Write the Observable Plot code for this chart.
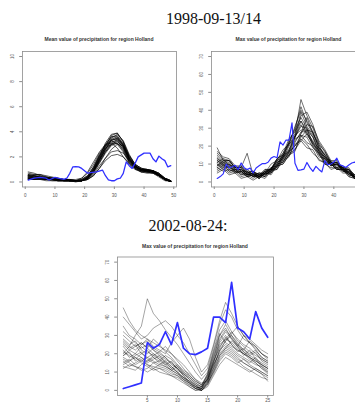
<!DOCTYPE html>
<html><head><meta charset="utf-8">
<script src="https://cdn.jsdelivr.net/npm/d3@7"></script>
<script src="https://cdn.jsdelivr.net/npm/@observablehq/plot@0.6"></script>
<style>
html,body{margin:0;padding:0;background:#fff;overflow:hidden;width:355px;height:403px;}
#page{position:relative;width:355px;height:403px;overflow:hidden;background:#fff;}
.date{position:absolute;font-family:"Liberation Serif","Times New Roman",serif;font-size:16px;color:#111;white-space:nowrap;transform:translateX(-50%);line-height:1;}
.ptitle{position:absolute;font-family:"Liberation Sans",Arial,sans-serif;font-weight:bold;font-size:5px;color:#333;white-space:nowrap;transform:translateX(-50%);line-height:1;}
.panel{position:absolute;}
.panel svg{max-width:none !important;display:block;}
</style></head><body><div id="page">
<div class="date" style="left:213.5px;top:10.6px">1998-09-13/14</div>
<div class="ptitle" style="left:99px;top:36.6px">Mean value of precipitation for region Holland</div>
<div class="ptitle" style="left:288.5px;top:36.6px">Max value of precipitation for region Holland</div>
<div class="date" style="left:188px;top:218px">2002-08-24:</div>
<div class="ptitle" style="left:195px;top:244.3px">Max value of precipitation for region Holland</div>
<div class="panel" id="p1" style="left:0px;top:44px;width:180px"></div>
<div class="panel" id="p2" style="left:190px;top:44px;width:180px"></div>
<div class="panel" id="p3" style="left:95px;top:250px;width:182px"></div>
</div>
<script>
// ---------- tick labels ----------
const ticksX1 = [0, 10, 20, 30, 40, 50];
const ticksY1 = [0, 2, 4, 6, 8, 10];
const ticksX2 = [0, 10, 20, 30, 40];
const ticksY2 = [0, 10, 20, 30, 40, 50, 60, 70];
const ticksX3 = [5, 10, 15, 20, 25];
const ticksY3 = [0, 10, 20, 30, 40, 50, 60, 70];

// ---------- panel 1: mean precipitation, 1998-09-13/14 ----------
const meanSteps = [1,3,5,7,9,11,13,15,17,19,21,23,25,27,29,31,33,35,37,39,41,43,45,47,49];
const meanMembers = [
 [.8,.7,.5,.4,.3,.2,.2,.1,.1,.1,.3,.9,1.8,2.5,3.1,3.4,2.8,1.8,1.2,1.0,.9,.9,.6,.2,.05],
 [.3,.3,.3,.2,.2,.1,.1,.1,.1,.2,.5,1.2,2.2,2.9,3.6,3.7,3.0,2.0,1.3,1.0,1.0,.8,.5,.2,.05],
 [.5,.6,.6,.4,.3,.3,.2,.2,.1,.1,.2,.7,1.5,2.3,2.9,3.1,2.6,1.6,1.1,.9,.8,.8,.6,.3,.1],
 [.2,.2,.2,.2,.1,.1,.1,.1,.1,.1,.4,1.1,2.0,3.1,3.8,3.9,3.2,2.1,1.4,1.1,1.0,.9,.7,.3,.1],
 [.4,.5,.4,.3,.3,.2,.2,.1,.1,.1,.3,.8,1.6,2.4,3.0,3.3,2.7,1.7,1.1,.8,.8,.7,.5,.2,.05],
 [.6,.5,.4,.4,.3,.3,.2,.2,.2,.3,.7,1.4,2.3,2.9,3.3,3.0,2.4,1.5,1.0,.9,.8,.8,.5,.2,.05],
 [.3,.2,.2,.1,.1,.1,.1,.1,.0,.1,.3,.9,1.7,2.6,3.4,3.6,3.1,1.9,1.3,1.0,.9,.9,.6,.2,.05],
 [.7,.6,.6,.5,.4,.3,.2,.2,.1,.1,.2,.5,1.1,1.7,2.1,2.2,2.0,1.5,1.1,.8,.7,.7,.5,.2,.05],
 [.2,.2,.3,.3,.2,.2,.1,.1,.1,.1,.4,1.0,1.9,2.7,3.3,3.5,2.9,1.8,1.2,1.0,1.0,.9,.7,.3,.1],
 [.5,.4,.3,.3,.2,.2,.2,.1,.1,.1,.3,.8,1.8,2.8,3.5,3.8,3.3,2.2,1.4,1.1,.9,.8,.5,.2,.05],
 [.4,.3,.3,.2,.2,.2,.1,.1,.1,.3,.8,1.6,2.4,3.0,3.1,2.7,2.0,1.4,1.0,.8,.8,.7,.4,.1,.05],
 [.3,.4,.4,.3,.2,.2,.2,.1,.1,.1,.2,.5,1.1,1.9,2.6,3.0,2.9,2.1,1.4,1.1,1.0,.9,.7,.3,.1],
 [.6,.5,.5,.3,.3,.2,.1,.1,.1,.1,.3,1.0,2.0,2.9,3.7,3.9,3.2,2.0,1.3,1.0,.9,.8,.6,.2,.05],
 [.2,.3,.2,.2,.2,.1,.1,.1,.1,.1,.3,.8,1.6,2.4,3.0,3.2,2.8,1.9,1.3,.9,.9,.8,.5,.2,.05],
 [.4,.4,.4,.3,.3,.2,.2,.2,.1,.2,.5,1.2,2.1,2.7,3.0,3.1,2.5,1.6,1.1,.9,.8,.8,.6,.2,.05],
 [.5,.5,.3,.3,.2,.2,.2,.1,.1,.1,.3,.9,1.7,2.6,3.3,3.5,3.0,1.9,1.2,1.0,.9,.8,.5,.2,.05],
 [.3,.3,.3,.2,.2,.1,.1,.1,.1,.1,.2,.6,1.3,1.9,2.4,2.5,2.3,1.7,1.2,1.0,.9,.8,.6,.2,.05],
 [.4,.3,.3,.3,.2,.2,.1,.1,.1,.1,.3,.9,1.9,2.8,3.4,3.4,2.9,1.8,1.2,.9,.9,.8,.5,.2,.05],
 [.3,.2,.3,.2,.2,.1,.1,.1,.1,.1,.4,1.1,2.1,3.0,3.6,3.6,2.9,1.8,1.2,1.0,.9,.9,.6,.2,.05],
 [.5,.4,.4,.3,.3,.2,.2,.1,.1,.2,.4,1.0,1.8,2.6,3.2,3.3,2.7,1.7,1.2,1.0,1.0,.9,.6,.3,.1]
];
const meanObsX = [1,3,5,7,8,10,11,13,14,15,16,17,18,19,21,22,24,26,27,28,29,30,31,32,33,34,35,36,37,38,40,42,43,44,45,46,47,48,49];
const meanObsY = [.15,.3,.37,.3,.16,.37,.3,.2,.3,.69,1.2,1.22,1.2,1.08,.7,.75,.8,.95,.5,.16,.1,.1,.25,.3,.69,1.6,1.3,1.08,1.5,2.0,2.3,2.3,1.85,1.6,2.06,1.85,1.7,1.2,1.3];

// ---------- panel 2: max precipitation, 1998-09-13/14 ----------
const maxSteps = [1,3,5,7,9,11,13,15,17,19,21,23,25,27,29,31,33,35,37,39,41,43,45,47,49];
const maxMembers = [
 [14,11,12,8,9,5,6,4,5,7,11,13,18,25,34,29,25,17,14,9,10,7,5,3,2],
 [8,10,6,7,4,5,3,4,3,7,8,14,16,23,27,36,27,21,13,12,8,9,5,4,2],
 [17,14,13,9,9,6,6,3,6,7,13,15,22,27,46,37,30,21,17,11,11,7,6,3,1],
 [5,7,4,5,2,3,1,3,2,6,7,13,15,21,23,27,21,18,11,10,7,7,3,2,1],
 [12,10,10,8,8,5,6,4,7,7,12,14,21,26,39,31,26,18,15,10,11,7,6,3,2],
 [10,7,9,5,6,3,4,2,5,5,10,11,16,18,23,19,18,12,11,7,8,5,5,2,1],
 [15,12,12,8,8,16,4,5,5,10,12,18,21,31,40,34,28,19,16,11,11,8,7,4,2],
 [9,11,7,8,5,6,3,5,4,8,9,15,18,26,29,29,22,19,12,11,8,8,4,3,1],
 [13,10,10,6,6,3,4,2,5,5,9,10,15,17,27,32,31,23,18,12,12,8,7,4,2],
 [11,13,9,9,6,7,4,5,4,8,9,15,17,25,31,30,21,17,11,11,7,8,4,3,1],
 [7,9,6,7,4,5,3,4,3,7,8,14,17,24,26,25,19,16,10,10,7,7,3,2,1],
 [16,13,12,8,8,4,5,3,6,7,13,15,21,25,37,39,32,22,17,11,11,7,7,3,2],
 [6,8,5,6,3,4,2,4,3,7,7,12,14,22,28,28,20,16,10,10,7,7,4,3,1],
 [12,9,10,7,7,4,5,3,6,6,12,14,23,29,36,30,25,17,14,10,10,7,7,3,2],
 [10,8,9,6,7,4,5,2,5,5,10,11,17,20,26,22,20,14,13,9,10,6,6,2,1],
 [19,12,12,8,8,5,6,3,7,7,13,16,24,28,34,27,23,16,14,10,11,8,8,3,2],
 [8,6,7,5,6,3,4,2,5,4,9,10,15,18,25,29,28,19,15,10,10,7,7,2,1],
 [13,11,11,7,7,4,5,3,6,6,11,13,20,25,32,26,22,15,13,9,10,6,6,2,2],
 [11,9,8,6,5,4,4,3,4,6,10,16,22,30,42,33,27,20,15,11,9,8,5,3,1],
 [9,12,8,9,6,6,3,3,5,8,11,12,17,20,24,21,16,13,10,8,8,6,5,2,1]
];
const maxObsX = [1,2,3,4,5,6,7,8,9,10,11,12,13,14,15,16,17,18,19,20,21,22,23,24,25,26,27,28,29,30,31,32,33,34,35,36,37,38,39,40,41,42,43,44,45,46,47,48,49];
const maxObsY = [2,3,4.5,10,7.8,8.5,9.3,6.9,10.6,8,6.9,7.8,5,7.8,9,10.2,10.2,11,13.3,14.2,13.5,22.4,20.6,23.4,23.4,33,10.4,6.5,6.8,7.2,10.9,8,5.9,8.7,7,5.6,11.9,9.6,10,11.1,13.3,9.6,9,8.1,9.5,10.6,11.1,10,10.5];

// ---------- panel 3: max precipitation, 2002-08-24 ----------
const max2Steps = [1,2,3,4,5,6,7,8,9,10,11,12,13,14,15,16,17,18,19,20,21,22,23,24,25];
const max2Members = [
 [22,18,20,24,21,19,17,15,12,10,6,3,1,2,8,18,26,30,25,22,20,18,16,14,12],
 [35,30,28,25,27,22,20,18,15,12,8,5,2,1,6,15,24,28,32,27,24,21,19,17,15],
 [15,17,14,16,18,20,17,14,16,11,9,6,3,0,4,12,22,25,23,20,18,16,14,13,10],
 [45,38,33,30,28,26,24,22,20,17,14,10,6,3,9,20,30,36,30,26,22,20,22,18,16],
 [28,25,27,22,20,23,21,18,14,12,8,4,1,0,5,14,20,24,22,19,17,15,18,14,12],
 [12,14,13,11,12,15,13,12,10,8,5,2,0,1,7,16,25,28,26,23,20,17,15,12,9],
 [20,24,30,35,50,42,38,33,29,25,20,15,10,6,10,22,33,38,32,28,25,23,20,17,15],
 [18,16,19,21,17,15,16,14,11,13,9,7,4,2,6,14,21,27,30,25,21,18,16,14,12],
 [30,27,24,26,23,20,18,16,13,10,7,4,1,0,3,11,19,23,21,18,15,13,11,9,7],
 [25,22,20,18,16,19,21,24,20,16,12,8,5,3,8,19,28,33,29,24,21,19,17,15,13],
 [16,13,15,17,14,12,10,9,8,6,4,2,0,0,4,10,17,21,19,16,13,11,9,7,6],
 [40,36,32,28,30,34,36,38,35,30,26,20,14,8,12,24,36,44,40,33,28,26,24,20,18],
 [21,19,17,20,18,16,14,13,11,9,7,5,3,2,6,15,27,32,28,24,30,26,22,18,16],
 [14,16,18,15,13,11,12,10,8,7,5,3,1,0,3,9,16,20,18,15,17,14,12,10,8],
 [32,29,26,23,25,22,19,17,15,12,9,6,3,1,7,17,30,34,28,25,22,27,24,20,18],
 [19,22,24,26,23,28,25,21,18,14,10,7,4,2,9,21,31,26,24,22,20,18,15,12,10],
 [24,20,18,16,14,13,12,11,9,8,6,4,2,1,5,13,22,27,31,35,30,26,23,20,17],
 [17,15,13,12,10,12,14,16,13,10,7,5,2,0,2,8,14,18,16,14,12,10,12,10,8],
 [27,24,22,25,28,24,22,20,26,30,34,28,18,10,14,25,38,48,42,35,30,28,25,22,20],
 [13,12,11,14,16,18,15,13,11,9,6,4,2,1,4,10,18,22,20,17,15,13,11,9,5],
 [19,21,16,18,15,17,19,15,12,14,11,9,6,4,5,12,19,23,27,24,19,22,17,13,11],
 [26,23,25,20,22,18,16,19,17,13,10,8,5,3,6,16,23,29,25,21,23,19,21,16,14]
];
const max2ObsX = [1,2,3,4,5,6,7,8,9,10,11,12,13,14,15,16,17,18,19,20,21,22,23,24,25];
const max2ObsY = [1,2,3,4,26,23,25,32,25,37,23,20,19.5,21,23,40,40,37,59,34,32,28,43,34,29];

// ---------- drawing ----------
function panel(cfg) {
  const rows = [];
  cfg.members.forEach((vals, m) => vals.forEach((v, i) => rows.push({m, x: cfg.steps[i], y: v})));
  const obs = cfg.obsX.map((x, i) => ({x, y: cfg.obsY[i]}));
  return Plot.plot({
    width: cfg.width, height: cfg.height,
    marginLeft: cfg.ml, marginRight: cfg.mr, marginTop: cfg.mt, marginBottom: cfg.mb,
    style: {fontFamily: "Liberation Sans, Arial, sans-serif", background: "transparent", overflow: "visible"},
    x: {domain: cfg.xDomain, label: null},
    y: {domain: cfg.yDomain, label: null},
    marks: [
      Plot.line(rows, {x: "x", y: "y", z: "m", stroke: "black", strokeWidth: cfg.lw, strokeOpacity: cfg.lo}),
      Plot.line(obs, {x: "x", y: "y", stroke: "#3030ff", strokeWidth: cfg.bw}),
      Plot.frame({stroke: "#8c8c8c", strokeWidth: 0.8}),
      Plot.axisX(cfg.xTicks, {anchor: "bottom", tickSize: 2.5, tickPadding: cfg.tp, fontSize: 4.5, stroke: "#8c8c8c", fill: "#555", label: null}),
      Plot.axisY(cfg.yTicks, {anchor: "left", tickSize: 2.8, tickFormat: () => "", stroke: "#8c8c8c", label: null}),
      Plot.text(cfg.yTicks, {x: cfg.xDomain[0], y: d => d, text: d => String(d), rotate: -90, dx: -9.5, fontSize: 4.5, fill: "#555", textAnchor: "middle"})
    ]
  });
}

document.getElementById("p1").appendChild(panel({
  members: meanMembers, steps: meanSteps, obsX: meanObsX, obsY: meanObsY,
  xDomain: [-0.92, 50.92], yDomain: [-0.4, 10.4], xTicks: ticksX1, yTicks: ticksY1,
  width: 180, height: 160, ml: 22, mr: 4, mt: 7, mb: 17.5, lw: 0.8, lo: 0.8, bw: 1.3, tp: 4
}));
document.getElementById("p2").appendChild(panel({
  members: maxMembers, steps: maxSteps, obsX: maxObsX, obsY: maxObsY,
  xDomain: [-0.92, 50.92], yDomain: [-2.8, 72.8], xTicks: ticksX2, yTicks: ticksY2,
  width: 180, height: 160, ml: 21, mr: 4, mt: 7, mb: 17.5, lw: 0.7, lo: 0.8, bw: 1.2, tp: 4
}));
document.getElementById("p3").appendChild(panel({
  members: max2Members, steps: max2Steps, obsX: max2ObsX, obsY: max2ObsY,
  xDomain: [0.04, 25.96], yDomain: [-2.8, 72.8], xTicks: ticksX3, yTicks: ticksY3,
  width: 182, height: 160, ml: 22, mr: 4, mt: 6.5, mb: 15, lw: 0.55, lo: 0.65, bw: 1.7, tp: 0.8
}));
</script>
</body></html>
